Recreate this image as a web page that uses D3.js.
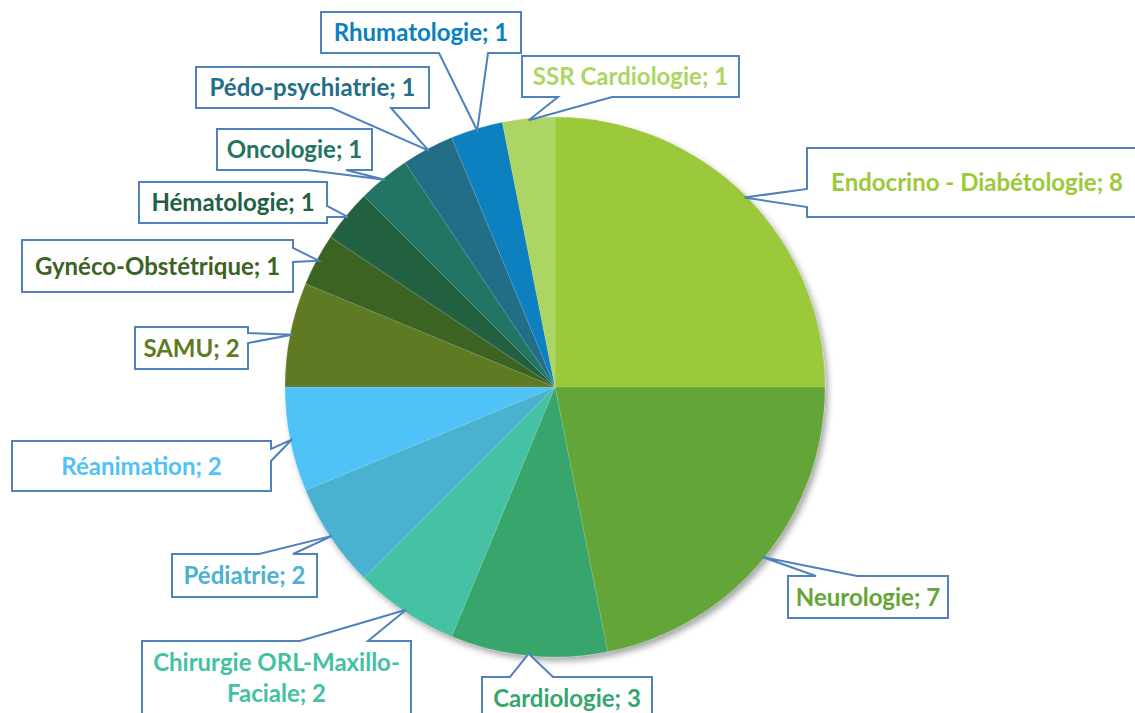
<!DOCTYPE html>
<html>
<head>
<meta charset="utf-8">
<script src="https://cdn.jsdelivr.net/npm/d3@7"></script>
<style>
  body { margin: 0; background: #fff; }
  svg { display: block; }
</style>
</head>
<body>
<div class="pie"></div>
<script>
// services and number of people, clockwise from 12 o'clock
var categories = ["Endocrino - Diabétologie", "Neurologie", "Cardiologie",
    "Chirurgie ORL-Maxillo-Faciale", "Pédiatrie", "Réanimation", "SAMU",
    "Gynéco-Obstétrique", "Hématologie", "Oncologie", "Pédo-psychiatrie",
    "Rhumatologie", "SSR Cardiologie"];
var values = [8, 7, 3, 2, 2, 2, 2, 1, 1, 1, 1, 1, 1];

var colors = ["#9bc93a", "#63a537", "#37a66c", "#44c1a3", "#4bb1d0", "#4fc2f7",
    "#5e7a22", "#3b6324", "#216043", "#247462", "#236e86", "#0a80bf", "#add563"];

// callout boxes: x, y, w, h, side the pointer leaves from, pointer base
var callouts = [
    {x: 807, y: 148, w: 340, h: 69, side: "left", base: [189, 207]},
    {x: 788, y: 576, w: 160, h: 42, side: "top", base: [816, 857]},
    {x: 482, y: 677, w: 170, h: 43, side: "top", base: [510, 553]},
    {x: 142, y: 641, w: 269, h: 90, side: "top", base: [300, 368], lines: ["Chirurgie ORL-Maxillo-", "Faciale; 2"]},
    {x: 172, y: 554, w: 145, h: 43, side: "top", base: [259, 293]},
    {x: 12, y: 441, w: 259, h: 50, side: "right", base: [449, 461]},
    {x: 135, y: 327, w: 113, h: 42, side: "right", base: [333, 343]},
    {x: 22, y: 240, w: 271, h: 52, side: "right", base: [248, 262]},
    {x: 139, y: 182, w: 188, h: 41, side: "right", base: [206, 217]},
    {x: 217, y: 129, w: 155, h: 41, side: "bottom", base: [307, 346]},
    {x: 196, y: 67, w: 233, h: 41, side: "bottom", base: [332, 391]},
    {x: 321, y: 12, w: 200, h: 41, side: "bottom", base: [439, 488]},
    {x: 522, y: 56, w: 217, h: 41, side: "bottom", base: [558, 612]}
];

var width = 1135, height = 713;
var cx = 555, cy = 387, radius = 270;

var svg = d3.select(".pie")
    .append("svg")
    .attr("width", width)
    .attr("height", height);

var defs = svg.append("defs");
var shadow = defs.append("filter")
    .attr("id", "shadow")
    .attr("x", "-10%").attr("y", "-10%")
    .attr("width", "125%").attr("height", "125%");
shadow.append("feDropShadow")
    .attr("dx", 3).attr("dy", 4)
    .attr("stdDeviation", 3)
    .attr("flood-color", "#000")
    .attr("flood-opacity", 0.35);

var pie = d3.pie().sort(null).value(function (d) { return d; });
var arcs = pie(values);

var arc = d3.arc().innerRadius(0).outerRadius(radius);
var edge = d3.arc().innerRadius(radius - 2).outerRadius(radius - 2);

var g = svg.append("g")
    .attr("transform", "translate(" + cx + "," + cy + ")");

g.append("g")
    .attr("filter", "url(#shadow)")
    .selectAll("path")
    .data(arcs)
    .enter()
    .append("path")
    .attr("d", arc)
    .style("fill", function (d, i) { return colors[i]; })
    .style("stroke", "#fff")
    .style("stroke-opacity", 0.2)
    .style("stroke-width", 0.6);

function calloutPath(c, tip) {
    var x0 = c.x, y0 = c.y, x1 = c.x + c.w, y1 = c.y + c.h;
    var a = c.base[0], b = c.base[1];
    var t = tip[0] + "," + tip[1];
    if (c.side == "top")
        return "M" + x0 + "," + y0 + "L" + a + "," + y0 + "L" + t + "L" + b + "," + y0 +
            "L" + x1 + "," + y0 + "L" + x1 + "," + y1 + "L" + x0 + "," + y1 + "Z";
    if (c.side == "right")
        return "M" + x0 + "," + y0 + "L" + x1 + "," + y0 + "L" + x1 + "," + a + "L" + t +
            "L" + x1 + "," + b + "L" + x1 + "," + y1 + "L" + x0 + "," + y1 + "Z";
    if (c.side == "bottom")
        return "M" + x0 + "," + y0 + "L" + x1 + "," + y0 + "L" + x1 + "," + y1 + "L" + b + "," + y1 +
            "L" + t + "L" + a + "," + y1 + "L" + x0 + "," + y1 + "Z";
    return "M" + x0 + "," + y0 + "L" + x1 + "," + y0 + "L" + x1 + "," + y1 + "L" + x0 + "," + y1 +
        "L" + x0 + "," + b + "L" + t + "L" + x0 + "," + a + "Z";
}

var labels = svg.append("g").selectAll("g")
    .data(arcs)
    .enter()
    .append("g");

labels.append("path")
    .attr("d", function (d, i) {
        var p = edge.centroid(d);
        return calloutPath(callouts[i], [cx + p[0], cy + p[1]]);
    })
    .style("fill", "#fff")
    .style("stroke", "#4f81bd")
    .style("stroke-width", 2)
    .style("stroke-linejoin", "miter");

labels.each(function (d, i) {
    var c = callouts[i];
    var lines = c.lines || [categories[i] + "; " + values[i]];
    var lh = 31;
    var top = c.y + c.h / 2 - (lines.length - 1) * lh / 2;
    if (c.lines) top = c.y + 21;
    d3.select(this).selectAll("text")
        .data(lines)
        .enter()
        .append("text")
        .attr("x", c.x + c.w / 2)
        .attr("y", function (l, k) { return top + k * lh; })
        .attr("dy", "0.36em")
        .attr("text-anchor", "middle")
        .text(function (l) { return l; })
        .style("font-size", "24px")
        .style("font-weight", "bold")
        .attr("font-family", "Lato, 'Open Sans', sans-serif")
        .attr("fill", colors[i]);
});
</script>
</body>
</html>
